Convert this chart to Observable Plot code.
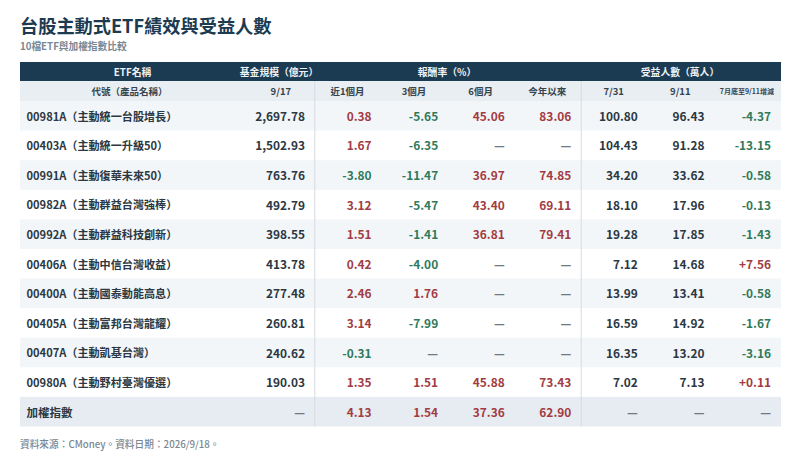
<!DOCTYPE html>
<html lang="zh-Hant"><head><meta charset="utf-8">
<script src="https://cdn.jsdelivr.net/npm/d3@7"></script>
<script src="https://cdn.jsdelivr.net/npm/@observablehq/plot@0.6"></script>
<style>
html,body{margin:0;padding:0;background:#fff;width:800px;height:465px;overflow:hidden;font-family:"Noto Sans CJK TC","Noto Sans",sans-serif}
#title{position:absolute;left:20px;top:11.5px;font-size:18.2px;font-weight:700;color:#1c3a50;line-height:26px;white-space:nowrap}
#sub{position:absolute;left:20px;top:39px;font-size:9.7px;font-weight:700;color:#7a8792;line-height:14px;white-space:nowrap}
#chart{position:absolute;left:0;top:60px}
#cap{position:absolute;left:20px;top:437px;font-size:9.7px;font-weight:500;color:#7a8792;line-height:14px;white-space:nowrap}
svg{display:block}
</style></head><body>
<div id="title">台股主動式ETF績效與受益人數</div>
<div id="sub">10檔ETF與加權指數比較</div>
<div id="chart"></div>
<div id="cap">資料來源：CMoney。資料日期：2026/9/18。</div>
<script>
const names = ["00981A（主動統一台股增長）","00403A（主動統一升級50）","00991A（主動復華未來50）","00982A（主動群益台灣強棒）","00992A（主動群益科技創新）","00406A（主動中信台灣收益）","00400A（主動國泰動能高息）","00405A（主動富邦台灣龍耀）","00407A（主動凱基台灣）","00980A（主動野村臺灣優選）","加權指數"];
const fundSize = [2697.78,1502.93,763.76,492.79,398.55,413.78,277.48,260.81,240.62,190.03,null];
const ret1m = [0.38,1.67,-3.80,3.12,1.51,0.42,2.46,3.14,-0.31,1.35,4.13];
const ret3m = [-5.65,-6.35,-11.47,-5.47,-1.41,-4.00,1.76,-7.99,null,1.51,1.54];
const ret6m = [45.06,null,36.97,43.40,36.81,null,null,null,null,45.88,37.36];
const retYtd = [83.06,null,74.85,69.11,79.41,null,null,null,null,73.43,62.90];
const holdersJul = [100.80,104.43,34.20,18.10,19.28,7.12,13.99,16.59,16.35,7.02,null];
const holdersSep = [96.43,91.28,33.62,17.96,17.85,14.68,13.41,14.92,13.20,7.13,null];
const holdersDelta = [-4.37,-13.15,-0.58,-0.13,-1.43,7.56,-0.58,-1.67,-3.16,0.11,null];
const subHeaders = ["代號（產品名稱）","9/17","近1個月","3個月","6個月","今年以來","7/31","9/11","7月底至9/11增減"];
const groupHeaders = ["ETF名稱","基金規模（億元）","報酬率（%）","受益人數（萬人）"];

// Layout: x is measured in value columns (0 = fund size), y in table rows.
const NAVY="#1b3b53",STRIPE="#f3f6f8",SUBBG="#e9eef3",TOTALBG="#e7ecf2",DIV="#d5dbe1",INK="#2b3843",RED="#a23b43",GREEN="#2f7a5b",DASH="#6d7a85";
const colW=66.57, xPx=p=>(p-305)/colW;
const rowH=325.5/11, yPx=p=>(p-101)/rowH;
const L=xPx(20),R=xPx(781),HT=yPx(62),HB=yPx(81);

const cols=[fundSize,ret1m,ret3m,ret6m,retYtd,holdersJul,holdersSep,holdersDelta];
const fmt=d3.format(",.2f");
const cells=[];
cols.forEach((arr,c)=>arr.forEach((v,r)=>{
  let t=v==null?"—":fmt(v).replace("\u2212","-");
  if(c===7&&v>0)t="+"+t;
  const signed=[1,2,3,4,7].includes(c);
  cells.push({c,r,t,fill:v==null?DASH:signed?(v<0?GREEN:RED):INK});
}));
const stripes=d3.range(0,10,2).map(r=>({r}));
const groupPos=[xPx(132),xPx(278.5),xPx(446.5),xPx(679.5)];
const subPos=[xPx(129),...d3.range(8).map(i=>i-0.37)];

const plot=Plot.plot({
  width:800,height:372,margin:0,
  x:{domain:[0,7],range:[305,771],axis:null},
  y:{domain:[0,11],range:[41,366.5],axis:null},
  style:{background:"transparent",fontFamily:'"Noto Sans CJK TC","Noto Sans",sans-serif'},
  marks:[
    Plot.rect(stripes,{x1:L,x2:R,y1:d=>d.r,y2:d=>d.r+1,fill:STRIPE}),
    Plot.rect([0],{x1:L,x2:R,y1:10,y2:11,fill:TOTALBG}),
    Plot.rect([0],{x1:L,x2:R,y1:HB,y2:0,fill:SUBBG}),
    Plot.rect([0],{x1:L,x2:R,y1:HT,y2:HB,fill:NAVY}),
    Plot.ruleX([xPx(314.3),xPx(580.7)],{y1:HB,y2:11,stroke:DIV,strokeWidth:1}),
    Plot.text(groupHeaders,{x:(d,i)=>groupPos[i],y:(HT+HB)/2,dy:0.5,text:d=>d,fill:"#eef2f5",fontSize:9.8,fontWeight:700}),
    Plot.text(subHeaders,{x:(d,i)=>subPos[i],y:HB/2,dy:0.5,text:d=>d,fill:"#34444f",fontSize:(d,i)=>i===8?7:9.5,fontWeight:700}),
    Plot.text(names,{x:xPx(26),y:(d,i)=>i+0.5,dy:0.7,text:d=>d,textAnchor:"start",fill:INK,fontSize:(d,i)=>i===10?11.5:11.1,fontWeight:700}),
    Plot.text(cells,{x:"c",y:d=>d.r+0.5,dy:0.7,dx:-0.5,text:"t",textAnchor:"end",fill:d=>d.fill,fontSize:11.9,fontWeight:700})
  ]
});
document.getElementById("chart").appendChild(plot);
</script></body></html>
